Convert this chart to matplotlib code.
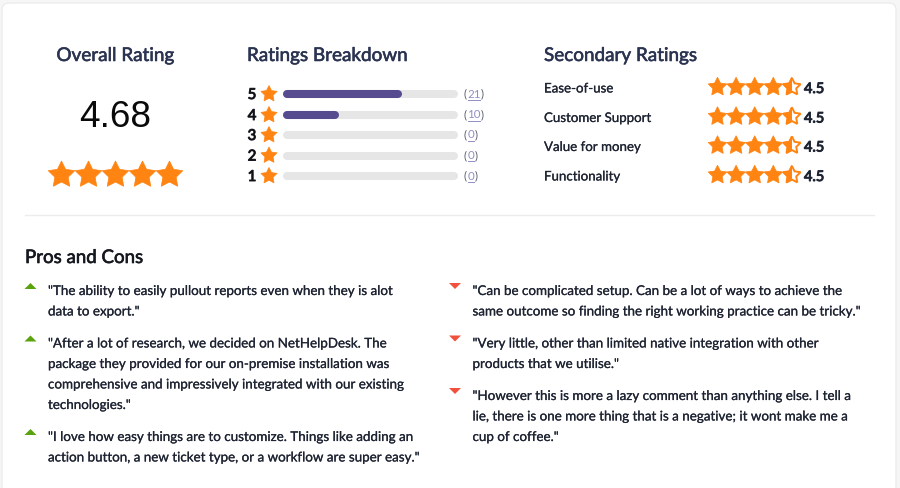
import matplotlib
matplotlib.use("Agg")
import matplotlib.pyplot as plt
import matplotlib.patheffects as pe
from matplotlib.patches import FancyBboxPatch, Rectangle
from matplotlib.path import Path
from matplotlib.patches import PathPatch
import numpy as np

plt.rcParams['font.family'] = ['Lato', 'DejaVu Sans']

overall_score = "4.68"
overall_stars = 5
breakdown_levels = [5, 4, 3, 2, 1]
breakdown_counts = [21, 10, 0, 0, 0]
secondary_names = ["Ease-of-use", "Customer Support", "Value for money", "Functionality"]
secondary_scores = [4.5, 4.5, 4.5, 4.5]
pros = [
    ['"The ability to easily pullout reports even when they is alot', 'data to export."'],
    ['"After a lot of research, we decided on NetHelpDesk. The',
     'package they provided for our on-premise installation was',
     'comprehensive and impressively integrated with our existing',
     'technologies."'],
    ['"I love how easy things are to customize. Things like adding an',
     'action button, a new ticket type, or a workflow are super easy."'],
]
cons = [
    ['"Can be complicated setup. Can be a lot of ways to achieve the',
     'same outcome so finding the right working practice can be tricky."'],
    ['"Very little, other than limited native integration with other',
     'products that we utilise."'],
    ['"However this is more a lazy comment than anything else. I tell a',
     'lie, there is one more thing that is a negative; it wont make me a',
     'cup of coffee."'],
]

ORANGE = "#ff8412"
NAVY = "#2a3350"
INK = "#1f2433"
# Lato renders thinner than the reference face, so thicken it a little
THICK = [pe.withStroke(linewidth=0.15, foreground=INK)]
THICK_NAVY = [pe.withStroke(linewidth=0.4, foreground=NAVY)]
HEAVY = [pe.withStroke(linewidth=0.7, foreground=INK)]


def px(size):
    return size * 0.72


fig = plt.figure(figsize=(9, 4.88), dpi=100, facecolor="#f6f6f6")
ax = fig.add_axes([0, 0, 1, 1])
ax.set_xlim(0, 900)
ax.set_ylim(488, 0)
ax.axis("off")

# card
ax.add_patch(FancyBboxPatch((2, 3), 894, 500, boxstyle="round,pad=0,rounding_size=7",
                            fc="white", ec="#ececec", lw=1))
ax.plot([25, 874], [215, 215], color="#ececec", lw=1)


def star_path(cx, cy, r):
    # y axis points down, so the tip is at cy - r
    angles = -np.pi / 2 + np.arange(10) * np.pi / 5
    radii = np.where(np.arange(10) % 2 == 0, r, r * 0.5)
    verts = np.column_stack([cx + radii * np.cos(angles), cy + radii * np.sin(angles)])
    verts = np.vstack([verts, verts[0]])
    codes = [Path.MOVETO] + [Path.LINETO] * 9 + [Path.CLOSEPOLY]
    return Path(verts, codes)


def draw_star(cx, cy, r, fill=1.0):
    path = star_path(cx, cy, r)
    if fill >= 1:
        ax.add_patch(PathPatch(path, fc=ORANGE, ec=ORANGE, lw=0.5))
        return
    ax.add_patch(PathPatch(star_path(cx, cy, r * 0.93), fc="white", ec=ORANGE, lw=1.4))
    half = PathPatch(path, fc=ORANGE, ec=ORANGE, lw=0.5)
    ax.add_patch(half)
    half.set_clip_path(Rectangle((cx - r, cy - r), r * (2 * fill), r * 2, transform=ax.transData))


# overall
ax.text(115.5, 61, "Overall Rating", fontsize=px(18.9), color=NAVY, ha="center", path_effects=THICK_NAVY)
ax.text(115.5, 127, overall_score, fontsize=px(37), color="#0a0a0a", ha="center", family="Liberation Sans")
for i in range(overall_stars):
    draw_star(61.5 + i * 27, 175, 14)

# breakdown
ax.text(247, 61, "Ratings Breakdown", fontsize=px(18.9), color=NAVY, path_effects=THICK_NAVY)
rows_y = [94, 115, 135, 155.5, 176]
total = sum(breakdown_counts)
for level, count, y in zip(breakdown_levels, breakdown_counts, rows_y):
    ax.text(252, y + 1, str(level), fontsize=px(15), color="#111111", ha="center", va="center", path_effects=HEAVY)
    draw_star(269, y, 8.5)
    ax.plot([287, 454], [y, y], color="#e6e6e6", lw=5.8, solid_capstyle="round")
    if count:
        ax.plot([287, 283 + 175 * count / total - 4], [y, y], color="#574b90", lw=5.8, solid_capstyle="round")
    ax.text(464, y, "(", fontsize=px(11.5), color="#555a6b", va="center")
    ax.text(467.5, y, str(count), fontsize=px(11.5), color="#8f8fc4", va="center")
    w = 2 + 6.4 * len(str(count))
    ax.plot([467.5, 467.5 + w - 2], [y + 5.5, y + 5.5], color="#8f8fc4", lw=0.7)
    ax.text(467.5 + w - 1.5, y, ")", fontsize=px(11.5), color="#555a6b", va="center")

# secondary
ax.text(544, 61, "Secondary Ratings", fontsize=px(18.9), color=NAVY, path_effects=THICK_NAVY)
sec_y = [87.5, 117, 146, 175.5]
for name, score, y in zip(secondary_names, secondary_scores, sec_y):
    ax.text(544, y + 1, name, fontsize=px(13.3), color=INK, va="center", path_effects=THICK)
    for i in range(5):
        draw_star(717.5 + i * 18.6, y - 0.5, 9.8, fill=min(1.0, score - i))
    ax.text(804, y + 1.5, str(score), fontsize=px(14.5), color=INK, va="center", path_effects=HEAVY)

# pros and cons
ax.text(25, 263, "Pros and Cons", fontsize=px(18.7), color="#16181f",
        path_effects=[pe.withStroke(linewidth=0.45, foreground="#16181f")])


def draw_list(items, text_x, tri_x, start_ys, up, color):
    for lines, y0 in zip(items, start_ys):
        if up:
            tri = [[tri_x, y0 - 1], [tri_x + 6, y0 - 7], [tri_x + 12, y0 - 1]]
        else:
            tri = [[tri_x, y0 - 7], [tri_x + 12, y0 - 7], [tri_x + 6, y0 - 1]]
        ax.fill(*zip(*tri), color=color, lw=0)
        for k, line in enumerate(lines):
            ax.text(text_x, y0 + 1 + k * 20.5, line, fontsize=px(13.4), color=INK, va="center", path_effects=THICK)


draw_list(pros, 48, 24.5, [290, 342.5, 436], True, "#5aa30f")
draw_list(cons, 472.5, 449, [290, 342.5, 395], False, "#f0503c")

fig.savefig("out.png", dpi=100, facecolor=fig.get_facecolor())
